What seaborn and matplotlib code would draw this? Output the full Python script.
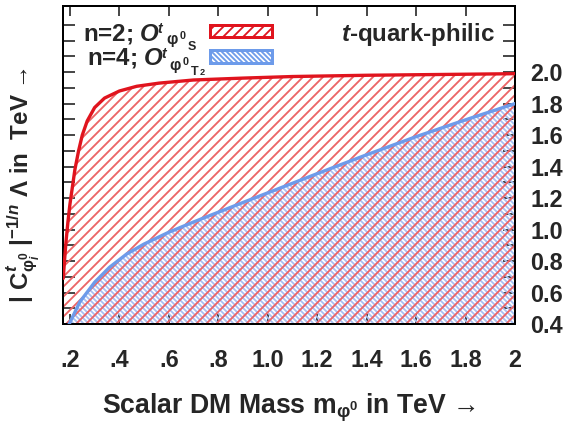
import numpy as np
import pandas as pd
import matplotlib
matplotlib.use('Agg')
import matplotlib.pyplot as plt
import matplotlib.patches as mpatches
from matplotlib.ticker import FixedLocator
import seaborn as sns

# n=2 curve (O^t_{phi0_S}) and n=4 curve (O^t_{phi0_T2})
mass_s = [0.173, 0.178, 0.184, 0.192, 0.200, 0.210, 0.220, 0.235, 0.250, 0.270,
          0.300, 0.340, 0.400, 0.470, 0.560, 0.700, 0.900, 1.100, 1.400, 1.700, 2.000]
lam_s = [0.69, 0.80, 0.92, 1.05, 1.16, 1.27, 1.38, 1.50, 1.60, 1.69,
         1.775, 1.835, 1.88, 1.91, 1.93, 1.95, 1.962, 1.972, 1.98, 1.985, 1.99]

mass_t2 = [0.190, 0.197, 0.240, 0.300, 0.360, 0.430, 0.500, 0.600, 0.700, 0.800,
           0.900, 1.000, 1.200, 1.400, 1.600, 1.800, 2.000]
lam_t2 = [0.37, 0.40, 0.54, 0.665, 0.76, 0.845, 0.908, 0.983, 1.048, 1.11,
          1.172, 1.233, 1.355, 1.475, 1.59, 1.697, 1.80]

x_ticks = [0.2, 0.4, 0.6, 0.8, 1.0, 1.2, 1.4, 1.6, 1.8, 2.0]
x_tick_labels = ['.2', '.4', '.6', '.8', '1.0', '1.2', '1.4', '1.6', '1.8', '2']
y_ticks = [0.4, 0.6, 0.8, 1.0, 1.2, 1.4, 1.6, 1.8, 2.0]
y_tick_labels = ['0.4', '0.6', '0.8', '1.0', '1.2', '1.4', '1.6', '1.8', '2.0']
y_minor = [0.5, 0.7, 0.9, 1.1, 1.3, 1.5, 1.7, 1.9, 2.1, 2.2, 2.3]

sns.set_style('ticks')
plt.rcParams['font.family'] = ['Liberation Sans', 'DejaVu Sans']
plt.rcParams['font.weight'] = 'bold'
plt.rcParams['mathtext.fontset'] = 'custom'
plt.rcParams['mathtext.rm'] = 'Liberation Sans:bold'
plt.rcParams['mathtext.it'] = 'Liberation Sans:italic:bold'
plt.rcParams['mathtext.bf'] = 'Liberation Sans:bold'
plt.rcParams['hatch.linewidth'] = 1.1

red = '#e0141e'
red_hatch = '#ec6466'
blue = '#6d9bea'
blue_hatch = '#a9c0f2'
W, H = 571, 425

fig = plt.figure(figsize=(W / 120, H / 120), dpi=120)
fig.patch.set_facecolor('white')
ax = fig.add_axes([63 / W, 1 - 324 / H, 452 / W, 318 / H])

df_s = pd.DataFrame({'mass': mass_s, 'lam': lam_s})
df_t2 = pd.DataFrame({'mass': mass_t2, 'lam': lam_t2})

ax.fill_between(df_t2['mass'], df_t2['lam'], 0, facecolor='none', edgecolor=blue_hatch,
                hatch='\\' * 8, linewidth=0, zorder=1)
ax.fill_between(df_s['mass'], df_s['lam'], 0, facecolor='none', edgecolor=red_hatch,
                hatch='////', linewidth=0, zorder=1.5)
sns.lineplot(data=df_t2, x='mass', y='lam', color=blue, lw=2.0, sort=False, ax=ax, zorder=3)
sns.lineplot(data=df_s, x='mass', y='lam', color=red, lw=2.0, sort=False, ax=ax, zorder=4)

ax.set_xlim(0.172, 2.0)
ax.set_ylim(0.4, 2.42)

ax.xaxis.set_major_locator(FixedLocator(x_ticks))
ax.set_xticklabels(x_tick_labels)
ax.yaxis.set_major_locator(FixedLocator(y_ticks))
ax.yaxis.set_minor_locator(FixedLocator(y_minor))
ax.set_yticklabels(y_tick_labels)

ax.tick_params(axis='x', which='both', direction='in', top=True, bottom=True, length=6,
               width=1.0, pad=15, labelsize=14)
ax.tick_params(axis='y', which='both', direction='in', left=True, right=True, length=7,
               width=1.0, labelleft=False, labelright=True, pad=9, labelsize=14)
for lbl in ax.get_xticklabels() + ax.get_yticklabels():
    lbl.set_fontweight('bold')

for spine in ax.spines.values():
    spine.set_visible(True)
    spine.set_color('black')
    spine.set_linewidth(1.2)

ax.set_xlabel(r'Scalar DM Mass m$_{\mathrm{\varphi}^{0}}$ in TeV →', fontsize=16, fontweight='bold')
ax.xaxis.set_label_coords(0.5, -0.264)
ax.xaxis.label.set_va('center')
ax.set_ylabel(r'| $\mathrm{C}^{t}_{\mathrm{\varphi}^{0}_{i}}$ |$^{-1/n}$ $\Lambda$ in  TeV →',
              fontsize=14.5, fontweight='bold')
ax.yaxis.set_label_coords(-0.088, 0.437)
ax.yaxis.label.set_va('center')


def ptext(x, y, s, size, va='baseline', **kw):
    # text placed in figure pixels (from top-left)
    return fig.text(x / W, 1 - y / H, s, fontsize=size, fontweight='bold', ha='left', va=va, **kw)


renderer = fig.canvas.get_renderer()


def operator_label(x, base_y, head, pieces):
    # head text, then super/subscripts placed after its right edge (dx, baseline, text, size)
    t0 = ptext(x, base_y, head, 14.5)
    right = t0.get_window_extent(renderer).x1
    for dx, y, s, size, kw in pieces:
        ptext(right + dx, y, s, size, **kw)


# legend drawn by hand: operator name on the left, hatched box on the right
operator_label(83, 40, r'n=2; $O$', [
    (-3, 33, 't', 8.5, {'style': 'italic'}),
    (6, 44, '\u03c6', 9.5, {}),
    (19, 39, '0', 6.5, {}),
    (27, 50, 'S', 7.5, {}),
])
operator_label(87, 65, r'n=4; $O$', [
    (-3, 58, 't', 8.5, {'style': 'italic'}),
    (5, 70, '\u03c6', 9.5, {}),
    (18, 65, '0', 6.5, {}),
    (27, 75, 'T', 7.5, {}),
    (35, 75, '2', 5.5, {}),
])

ax.add_patch(mpatches.Rectangle((0.325, 0.9025), 0.137, 0.0377, transform=ax.transAxes,
                                facecolor='white', edgecolor=red, hatch='////', lw=1.8, zorder=5))
ax.add_patch(mpatches.Rectangle((0.325, 0.821), 0.137, 0.041, transform=ax.transAxes,
                                facecolor='white', edgecolor=blue, hatch='\\' * 8, lw=1.8, zorder=5))

ax.text(0.956, 0.909, r'$t$-quark-philic', transform=ax.transAxes, fontsize=14.5,
        fontweight='bold', ha='right', va='center')

fig.savefig('out.png', dpi=120)
